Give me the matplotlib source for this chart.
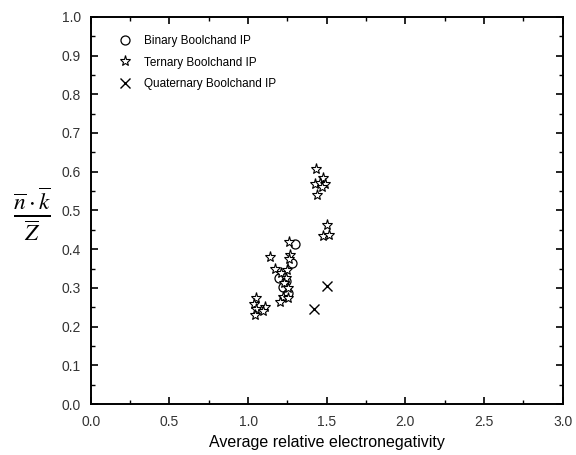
import matplotlib
matplotlib.use("Agg")
import matplotlib.pyplot as plt
from matplotlib.ticker import MultipleLocator

plt.rcParams['font.family'] = ['Liberation Sans', 'DejaVu Sans']
plt.rcParams['mathtext.fontset'] = 'stix'

# Binary Boolchand IP
bin_x = [1.299, 1.282, 1.198, 1.219, 1.251, 1.240]
bin_y = [0.413, 0.365, 0.326, 0.303, 0.288, 0.318]

# Ternary Boolchand IP
ter_x = [1.434, 1.477, 1.426, 1.456, 1.491, 1.470, 1.441,
         1.502, 1.477, 1.515,
         1.050, 1.040, 1.110, 1.050, 1.093, 1.046,
         1.263, 1.137, 1.268, 1.261, 1.169, 1.209, 1.245, 1.240,
         1.230, 1.251, 1.219, 1.251, 1.204]
ter_y = [0.606, 0.583, 0.568, 0.570, 0.568, 0.560, 0.540,
         0.463, 0.434, 0.437,
         0.273, 0.258, 0.251, 0.245, 0.239, 0.230,
         0.419, 0.379, 0.385, 0.374, 0.349, 0.339, 0.346, 0.325,
         0.312, 0.299, 0.277, 0.273, 0.264]

# Quaternary Boolchand IP
quat_x = [1.500, 1.422]
quat_y = [0.305, 0.246]

fig = plt.figure(figsize=(5.76, 4.55), dpi=100)
ax = fig.add_axes([0.1575, 0.112, 0.8195, 0.851])

ax.plot(bin_x, bin_y, 'o', mfc='none', mec='black', ms=6.5, mew=0.9,
        label='Binary Boolchand IP')
ax.plot(ter_x, ter_y, '*', mfc='white', mec='black', ms=8, mew=0.8,
        label='Ternary Boolchand IP')
ax.plot(quat_x, quat_y, 'x', color='black', ms=7.5, mew=1.0,
        label='Quaternary Boolchand IP')

ax.set_xlim(0, 3.0)
ax.set_ylim(0, 1.0)
ax.xaxis.set_major_locator(MultipleLocator(0.5))
ax.xaxis.set_minor_locator(MultipleLocator(0.25))
ax.yaxis.set_major_locator(MultipleLocator(0.1))
ax.yaxis.set_minor_locator(MultipleLocator(0.05))
ax.tick_params(which='both', direction='in', top=True, right=True,
               labelsize=10, labelcolor='#333333')
ax.tick_params(axis='x', which='major', pad=8)
ax.tick_params(axis='y', which='major', pad=7)
ax.tick_params(which='major', length=5, width=1.2)
ax.tick_params(which='minor', length=3, width=1.0)
for s in ax.spines.values():
    s.set_linewidth(1.4)

ax.set_xlabel('Average relative electronegativity', fontsize=11.5, labelpad=4)
ax.set_ylabel(r'$\frac{\overline{n}\cdot\overline{k}}{\overline{Z}}$',
              fontsize=24, rotation=0, va='center', ha='center')
ax.yaxis.set_label_coords(-0.124, 0.49)

ax.legend(loc='upper left', frameon=False, fontsize=8.5, handletextpad=1.1,
          borderaxespad=0.0, labelspacing=0.8, handlelength=1.0,
          bbox_to_anchor=(0.05, 0.965))

fig.savefig('out.png', dpi=100)
